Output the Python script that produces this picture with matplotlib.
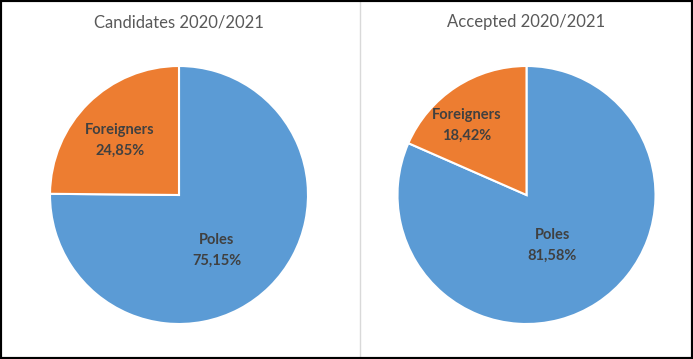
import matplotlib.pyplot as plt
from matplotlib.patches import Rectangle

titles = ["Candidates 2020/2021", "Accepted 2020/2021"]
groups = ["Poles", "Foreigners"]
candidates = [75.15, 24.85]
accepted = [81.58, 18.42]
colors = ["#5B9BD5", "#ED7D31"]

W, H = 693, 359
fig = plt.figure(figsize=(W / 100, H / 100), dpi=100)
ax = fig.add_axes([0, 0, 1, 1])
ax.set_xlim(0, W)
ax.set_ylim(0, H)
ax.set_aspect("equal")
ax.axis("off")

centers = [(179, H - 195), (526.5, H - 195)]
radius = 129
# label centres relative to pie centre (pixels), per slice
label_offsets = [
    [(38, -55), (-59, 55)],
    [(26, -50), (-60, 70)],
]

for k, vals in enumerate([candidates, accepted]):
    cx, cy = centers[k]
    ax.pie(vals, colors=colors, startangle=90, counterclock=False,
           center=(cx, cy), radius=radius,
           wedgeprops=dict(edgecolor="white", linewidth=1.5))
    for j, (name, v) in enumerate(zip(groups, vals)):
        dx, dy = label_offsets[k][j]
        ax.text(cx + dx, cy + dy, f"{name}\n{v:.2f}%".replace(".", ","),
                ha="center", va="center", fontsize=10.5, fontweight="bold",
                family="Lato", color="#404040", linespacing=1.6)
    ax.text(cx, H - 22, titles[k], ha="center", va="center",
            fontsize=12, family="Lato", color="#595959")

ax.set_xlim(0, W)
ax.set_ylim(0, H)

# divider between the two charts
ax.plot([360, 360], [2, H - 2], color="#d9d9d9", linewidth=1)
fig.patches.append(Rectangle((0, 0), 1, 1, transform=fig.transFigure,
                             fill=False, edgecolor="black", linewidth=3))

fig.savefig("out.png", dpi=100)
